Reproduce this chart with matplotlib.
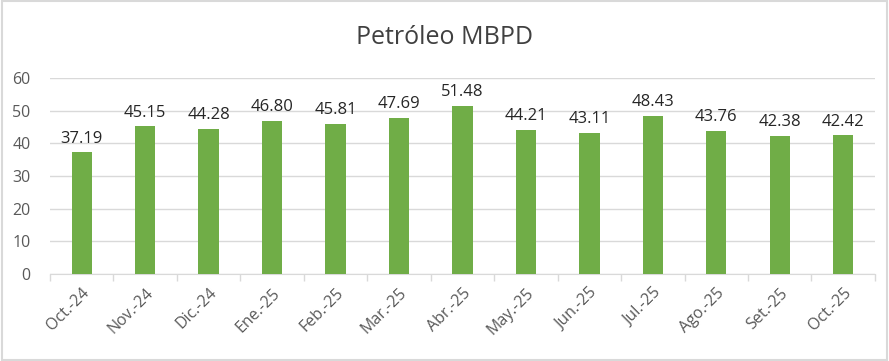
import matplotlib.pyplot as plt
import numpy as np

# --- Data ---
months = ["Oct.-24", "Nov.-24", "Dic.-24", "Ene.-25", "Feb.-25", "Mar.-25", "Abr.-25",
          "May.-25", "Jun.-25", "Jul.-25", "Ago.-25", "Set.-25", "Oct.-25"]
mbpd = [37.19, 45.15, 44.28, 46.80, 45.81, 47.69, 51.48,
        44.21, 43.11, 48.43, 43.76, 42.38, 42.42]

plt.rcParams['font.family'] = ['Open Sans', 'DejaVu Sans']

fig = plt.figure(figsize=(8.89, 3.61), dpi=100)
ax = fig.add_axes([0.0562, 0.241, 0.928, 0.543])

x = np.arange(len(months))
bars = ax.bar(x, mbpd, width=0.32, color="#70AD47", zorder=3)

for xi, v in zip(x, mbpd):
    ax.text(xi, v + 1.8, f"{v:.2f}", ha="center", va="bottom",
            fontsize=12, color="#262626")

ax.set_xlim(-0.5, len(months) - 0.5)
ax.set_ylim(0, 60)
ax.set_yticks(range(0, 61, 10))
ax.yaxis.grid(True, color="#D9D9D9", linewidth=1, zorder=0)
ax.tick_params(axis="y", length=0, labelsize=11.5, labelcolor="#595959", pad=14)

ax.set_xticks(x)
ax.set_xticklabels(months, rotation=45, ha="right", rotation_mode="anchor",
                   fontsize=11.5, color="#595959")
ax.set_xticks(np.arange(-0.5, len(months)), minor=True)
ax.tick_params(axis="x", which="major", length=0, pad=8)
ax.tick_params(axis="x", which="minor", length=5, color="#D9D9D9", width=1)

for s in ["top", "right", "left"]:
    ax.spines[s].set_visible(False)
ax.spines["bottom"].set_color("#D9D9D9")

fig.text(0.5, 0.895, "Petróleo MBPD", ha="center", va="center",
         fontsize=18, color="#404040")

# light frame around the chart
fig.patches.append(plt.Rectangle((0.002, 0.003), 0.996, 0.994, transform=fig.transFigure,
                                 fill=False, edgecolor="#D9D9D9", linewidth=1.5))

fig.savefig("out.png", dpi=100)
